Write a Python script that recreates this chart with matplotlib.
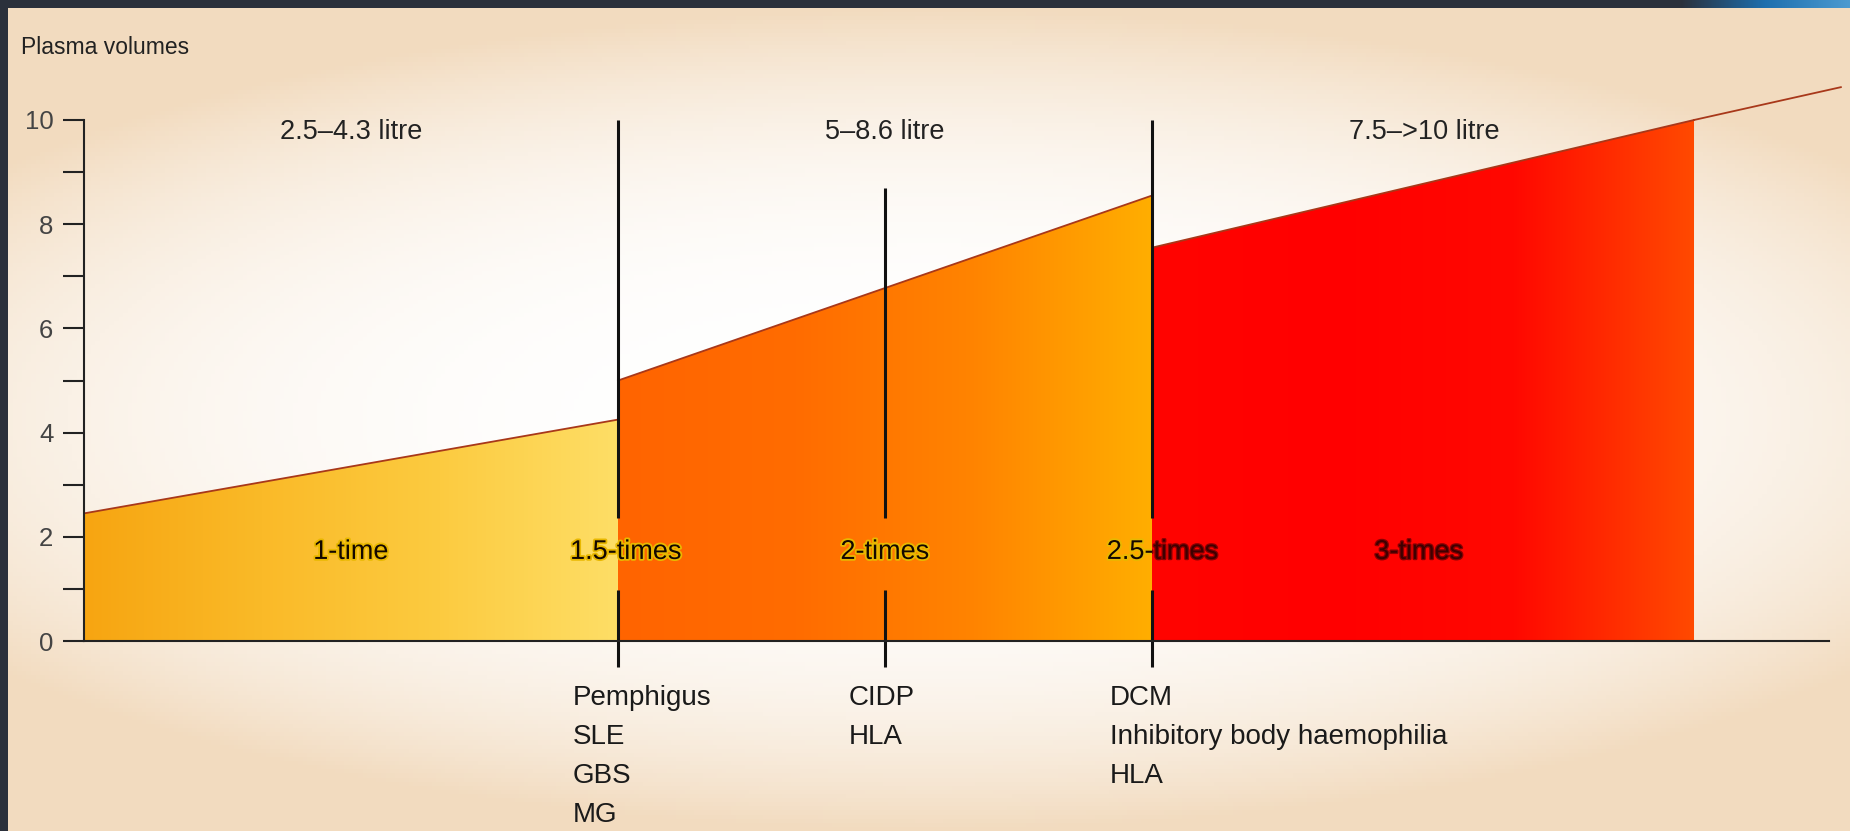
import numpy as np
import matplotlib.pyplot as plt
import matplotlib.patheffects as pe
from matplotlib import font_manager
from matplotlib.colors import LinearSegmentedColormap
from matplotlib.transforms import Bbox, TransformedBbox

# data
seg_x = [[0, 2], [2, 4], [4, 6.03]]
seg_y = [[2.45, 4.25], [5.0, 8.55], [7.55, 10.0]]
ext_x = [6.03, 6.58]
ext_y = [10.0, 10.63]
range_labels = ["2.5\u20134.3 litre", "5\u20138.6 litre", "7.5\u2013>10 litre"]
range_x = [1.0, 3.0, 5.02]
times_labels = ["1-time", "1.5-times", "2-times", "2.5-times", "3-times"]
times_x = [1.0, 2.03, 3.0, 4.04, 5.0]
marker_x = [2, 3, 4]
marker_top = [10.0, 8.7, 10.0]
disease_x = [1.83, 2.865, 3.843]
disease_groups = [["Pemphigus", "SLE", "GBS", "MG"],
                  ["CIDP", "HLA"],
                  ["DCM", "Inhibitory body haemophilia", "HLA"]]
seg_colors = [["#F7A511", "#FABA28", "#FCCB40", "#FEDE66"],
              ["#FF6400", "#FF6C00", "#FF8400", "#FFAE00"],
              ["#FF0400", "#FF0000", "#FF0800", "#FF4A00"]]

names = {f.name for f in font_manager.fontManager.ttflist}
narrow = "Liberation Sans Narrow" if "Liberation Sans Narrow" in names else "Liberation Sans"
plt.rcParams["font.family"] = ["Liberation Sans", "DejaVu Sans"]

fig = plt.figure(figsize=(18.5, 8.31), dpi=100)
fig.patch.set_facecolor("#2B303B")

# page background: white centre, beige top / bottom
bg = fig.add_axes([8 / 1850, 0, 1 - 8 / 1850, 823 / 831])
gx, gy = np.meshgrid(np.linspace(-1, 1, 400), np.linspace(-1, 1, 200))
r = np.clip(np.sqrt((gx * 0.78) ** 2 + gy ** 2), 0, 1) ** 3
edge = np.array([0.95, 0.86, 0.75])
img = 1 - r[..., None] * (1 - edge)
bg.imshow(img, extent=[0, 1, 0, 1], aspect="auto", origin="lower")
bg.axis("off")

# blue corner in the top band
corner = fig.add_axes([1680 / 1850, 823 / 831, 170 / 1850, 8 / 831])
cmap_c = LinearSegmentedColormap.from_list("c", ["#2B303B", "#1E6FAE", "#4C9AD0"])
corner.imshow(np.linspace(0, 1, 100)[None, :], cmap=cmap_c, aspect="auto")
corner.axis("off")

ax = fig.add_axes([84 / 1850, 0.1847, 6.6 * 267 / 1850, 0.7148])
ax.set_facecolor("none")

for xs, ys, cols in zip(seg_x, seg_y, seg_colors):
    poly = ax.fill_between(xs, ys, 0, color="none", lw=0)
    cm = LinearSegmentedColormap.from_list("g", cols)
    im = ax.imshow(np.linspace(0, 1, 256)[None, :], cmap=cm, aspect="auto",
                   extent=[xs[0], xs[1], 0, max(ys)], zorder=1)
    im.set_clip_path(poly.get_paths()[0], transform=ax.transData)
    ax.plot(xs, ys, color="#A8381A", lw=1.3, zorder=2)
ax.plot(ext_x, ext_y, color="#A8381A", lw=1.3, zorder=2)

# vertical markers with a gap for the labels
for mx, top in zip(marker_x, marker_top):
    ax.plot([mx, mx], [-0.5, 0.98], color="#111111", lw=2.2, zorder=3, solid_capstyle="butt")
    ax.plot([mx, mx], [2.37, top], color="#111111", lw=2.2, zorder=3, solid_capstyle="butt")

# range labels
for lab, x in zip(range_labels, range_x):
    ax.text(x, 9.77, lab, ha="center", va="center", fontsize=19.5, family=narrow, color="#222222")

# multiplier labels
glow = [pe.withStroke(linewidth=2.6, foreground="#E9B800")]
dark = [pe.withStroke(linewidth=1.8, foreground="#8A0000")]
for lab, x in zip(times_labels, times_x):
    kw = dict(ha="center", va="center", fontsize=19.5, family=narrow, zorder=5)
    if lab == "3-times":
        ax.text(x, 1.71, lab, color="#3E0000", path_effects=dark, **kw)
    elif lab == "2.5-times":
        t1 = ax.text(x, 1.71, lab, color="#140800", path_effects=glow, clip_on=True, **kw)
        t1.set_clip_box(TransformedBbox(Bbox([[0, -1], [4.0, 3]]), ax.transData))
        t2 = ax.text(x, 1.71, lab, color="#3E0000", path_effects=dark, clip_on=True, **kw)
        t2.set_clip_box(TransformedBbox(Bbox([[4.0, -1], [7, 3]]), ax.transData))
    else:
        ax.text(x, 1.71, lab, color="#140800", path_effects=glow, **kw)

# conditions below the axis
for x, grp in zip(disease_x, disease_groups):
    ax.text(x, -0.84, "\n".join(grp), ha="left", va="top", fontsize=20,
            color="#1A1A1A", linespacing=1.66)

ax.set_xlim(0, 6.6)
ax.set_ylim(-0.7, 10.7)
ax.spines["top"].set_visible(False)
ax.spines["right"].set_visible(False)
ax.spines["left"].set_bounds(0, 10)
ax.spines["bottom"].set_bounds(0, 6.535)
ax.spines["bottom"].set_position(("data", 0))
for s in ["left", "bottom"]:
    ax.spines[s].set_linewidth(1.5)
    ax.spines[s].set_color("#222222")
    ax.spines[s].set_zorder(4)
ax.set_xticks([])
ax.set_yticks([0, 2, 4, 6, 8, 10])
ax.set_yticks([1, 3, 5, 7, 9], minor=True)
ax.tick_params(axis="y", which="both", length=15, width=1.5, direction="out",
               color="#222222", pad=7, labelsize=18.5, labelcolor="#444444")
for t in ax.get_yticklabels():
    t.set_family(narrow)

fig.text(21 / 1850, 1 - 47 / 831, "Plasma volumes", ha="left", va="center",
         fontsize=16.5, family=narrow, color="#222222")

fig.savefig("out.png", dpi=100, facecolor=fig.get_facecolor())
